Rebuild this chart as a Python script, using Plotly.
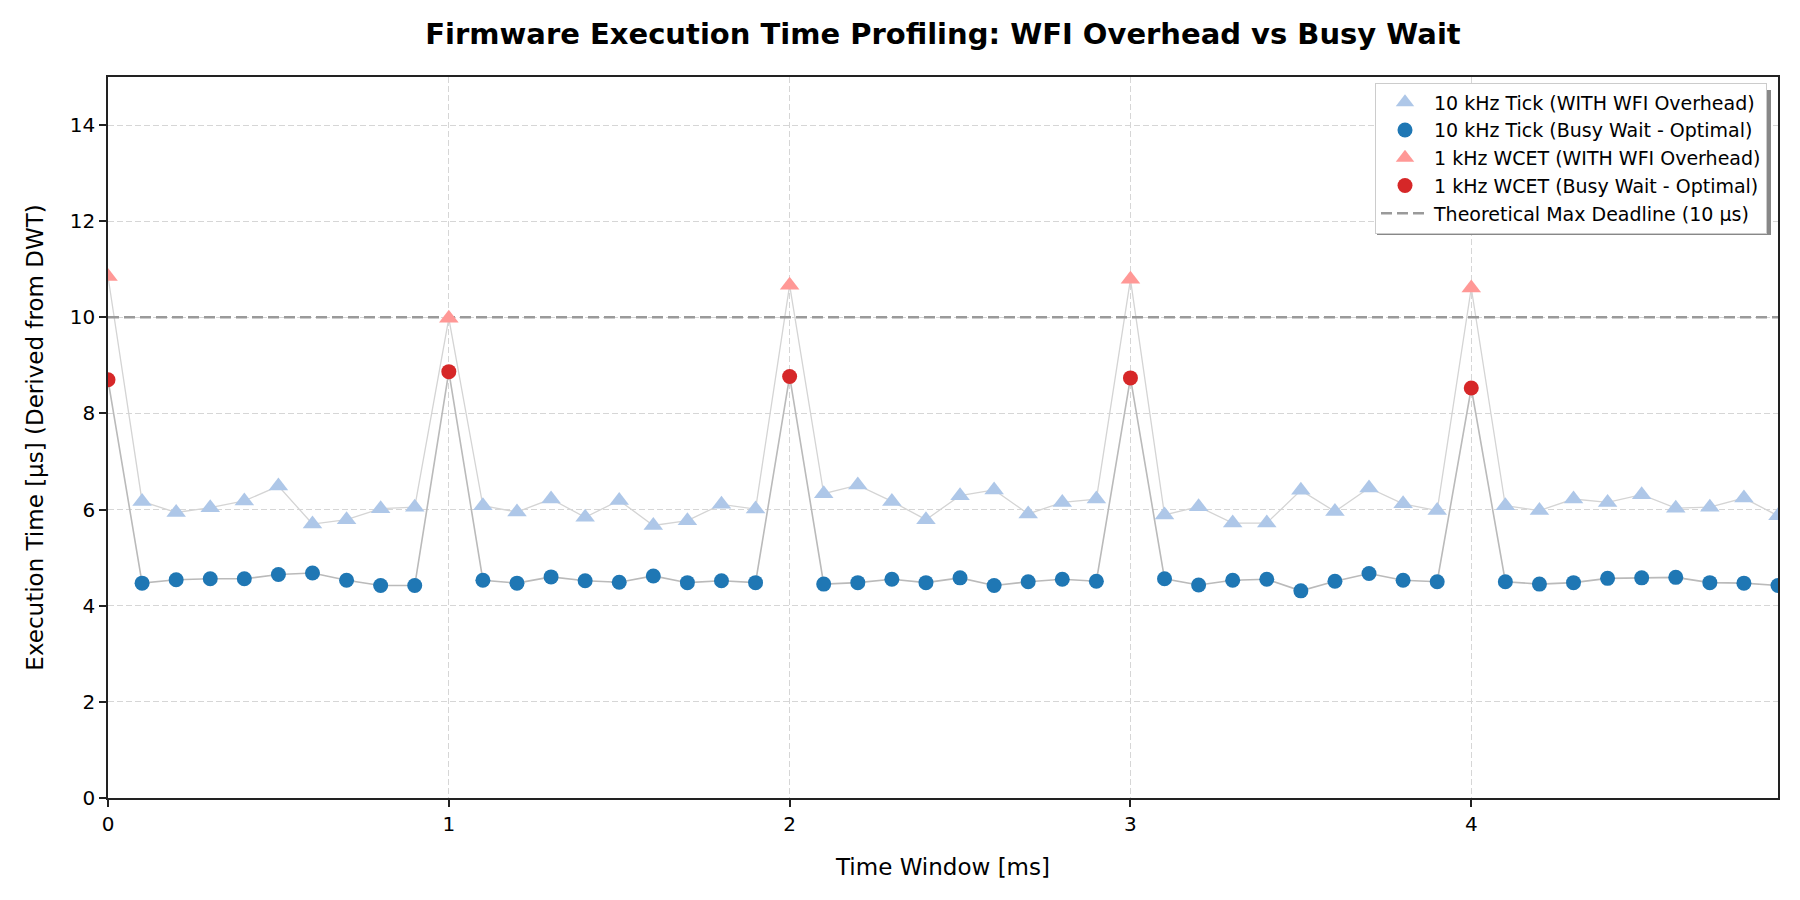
import plotly.graph_objects as go

# ---------------- data ----------------
time_ms = [0.0, 0.1, 0.2, 0.3, 0.4, 0.5, 0.6, 0.7, 0.8, 0.9,
           1.0, 1.1, 1.2, 1.3, 1.4, 1.5, 1.6, 1.7, 1.8, 1.9,
           2.0, 2.1, 2.2, 2.3, 2.4, 2.5, 2.6, 2.7, 2.8, 2.9,
           3.0, 3.1, 3.2, 3.3, 3.4, 3.5, 3.6, 3.7, 3.8, 3.9,
           4.0, 4.1, 4.2, 4.3, 4.4, 4.5, 4.6, 4.7, 4.8, 4.9]

wfi_us = [10.85, 6.17, 5.94, 6.04, 6.18, 6.49, 5.70, 5.79, 6.02, 6.05,
          9.98, 6.08, 5.95, 6.22, 5.84, 6.19, 5.67, 5.77, 6.11, 6.01,
          10.67, 6.33, 6.51, 6.17, 5.79, 6.29, 6.41, 5.91, 6.15, 6.22,
          10.79, 5.89, 6.06, 5.72, 5.72, 6.40, 5.96, 6.45, 6.12, 5.98,
          10.61, 6.08, 5.98, 6.22, 6.15, 6.31, 6.03, 6.05, 6.24, 5.87]

busy_us = [8.70, 4.47, 4.54, 4.56, 4.56, 4.65, 4.68, 4.53, 4.42, 4.42,
           8.87, 4.53, 4.47, 4.60, 4.52, 4.49, 4.62, 4.48, 4.52, 4.48,
           8.77, 4.45, 4.48, 4.55, 4.48, 4.58, 4.42, 4.50, 4.55, 4.51,
           8.74, 4.56, 4.43, 4.53, 4.55, 4.31, 4.51, 4.67, 4.53, 4.50,
           8.53, 4.50, 4.45, 4.48, 4.57, 4.58, 4.59, 4.48, 4.47, 4.42]

wcet_times = [0.0, 1.0, 2.0, 3.0, 4.0]   # 1 kHz task instants
deadline_us = 10

x_ticks = [0, 1, 2, 3, 4]
y_ticks = [0, 2, 4, 6, 8, 10, 12, 14]

# ---------------- split ----------------
tick_x, tick_wfi, tick_busy = [], [], []
wcet_x, wcet_wfi, wcet_busy = [], [], []
for t, a, b in zip(time_ms, wfi_us, busy_us):
    if t in wcet_times:
        wcet_x.append(t); wcet_wfi.append(a); wcet_busy.append(b)
    else:
        tick_x.append(t); tick_wfi.append(a); tick_busy.append(b)

FONT = "DejaVu Sans"
fig = go.Figure()

# connecting lines
fig.add_trace(go.Scatter(x=time_ms, y=wfi_us, mode="lines",
                         line=dict(color="#d4d4d4", width=1.3),
                         showlegend=False, hoverinfo="skip"))
fig.add_trace(go.Scatter(x=time_ms, y=busy_us, mode="lines",
                         line=dict(color="#bababa", width=1.6),
                         showlegend=False, hoverinfo="skip"))

# deadline
fig.add_trace(go.Scatter(x=[0, 4.9], y=[deadline_us, deadline_us], mode="lines",
                         line=dict(color="#9a9a9a", width=2.5, dash="11px,5px"),
                         name="Theoretical Max Deadline (10 µs)", legendrank=5))

fig.add_trace(go.Scatter(x=tick_x, y=tick_wfi, mode="markers",
                         marker=dict(symbol="triangle-up", size=17, color="#aec7e8"),
                         name="10 kHz Tick (WITH WFI Overhead)", legendrank=1))
fig.add_trace(go.Scatter(x=tick_x, y=tick_busy, mode="markers",
                         marker=dict(symbol="circle", size=15, color="#1f77b4"),
                         name="10 kHz Tick (Busy Wait - Optimal)", legendrank=2))
fig.add_trace(go.Scatter(x=wcet_x, y=wcet_wfi, mode="markers",
                         marker=dict(symbol="triangle-up", size=17, color="#ff9896"),
                         name="1 kHz WCET (WITH WFI Overhead)", legendrank=3))
fig.add_trace(go.Scatter(x=wcet_x, y=wcet_busy, mode="markers",
                         marker=dict(symbol="circle", size=15, color="#d62728"),
                         name="1 kHz WCET (Busy Wait - Optimal)", legendrank=4))

L, R, T, B = 108, 22, 77, 102
W, H = 1800, 900
pw, ph = W - L - R, H - T - B

# legend shadow
lg_left, lg_right, lg_top, lg_bot = 1373, 1767, 86, 231
sh = 4
fig.add_shape(type="rect", xref="paper", yref="paper",
              x0=(lg_left + sh - L) / pw, x1=(lg_right + sh - L) / pw,
              y0=1 - (lg_bot + sh - T) / ph, y1=1 - (lg_top + sh - T) / ph,
              fillcolor="#888888", line=dict(width=0), layer="above")

fig.update_layout(
    width=W, height=H,
    margin=dict(l=L, r=R, t=T, b=B),
    paper_bgcolor="white", plot_bgcolor="white",
    font=dict(family=FONT, color="black"),
    title=dict(text="<b>Firmware Execution Time Profiling: WFI Overhead vs Busy Wait</b>",
               x=0.5, xref="paper", xanchor="center",
               y=1 - 34 / H, yref="container", yanchor="middle",
               font=dict(family=FONT, size=29, color="black")),
    legend=dict(x=(lg_right - L) / pw, xanchor="right",
                y=1 - (lg_top - 3.5 - T) / ph, yanchor="top",
                bgcolor="white", bordercolor="#cccccc", borderwidth=1,
                font=dict(family=FONT, size=19, color="black"),
                itemwidth=48, tracegroupgap=0),
    showlegend=True,
)

fig.update_xaxes(range=[0, 4.9], tickvals=x_ticks, ticktext=[str(v) for v in x_ticks],
                 showgrid=True, gridcolor="#d6d6d6", gridwidth=1.3, griddash="6px,3px",
                 zeroline=False, showline=True, linecolor="#222222", linewidth=1.7,
                 mirror=True, ticks="outside", ticklen=7, tickwidth=1.6, tickcolor="#222222",
                 tickfont=dict(family=FONT, size=20, color="black"),
                 title=dict(text="Time Window [ms]", standoff=24,
                            font=dict(family=FONT, size=23, color="black")))
fig.update_yaxes(range=[0, 15], tickvals=y_ticks, ticktext=[str(v) for v in y_ticks],
                 showgrid=True, gridcolor="#d6d6d6", gridwidth=1.3, griddash="6px,3px",
                 zeroline=False, showline=True, linecolor="#222222", linewidth=1.7,
                 mirror=True, ticks="outside", ticklen=7, tickwidth=1.6, tickcolor="#222222",
                 tickfont=dict(family=FONT, size=20, color="black"),
                 title=dict(text="Execution Time [µs] (Derived from DWT)", standoff=20,
                            font=dict(family=FONT, size=23, color="black")))

fig.write_html("out.html")
